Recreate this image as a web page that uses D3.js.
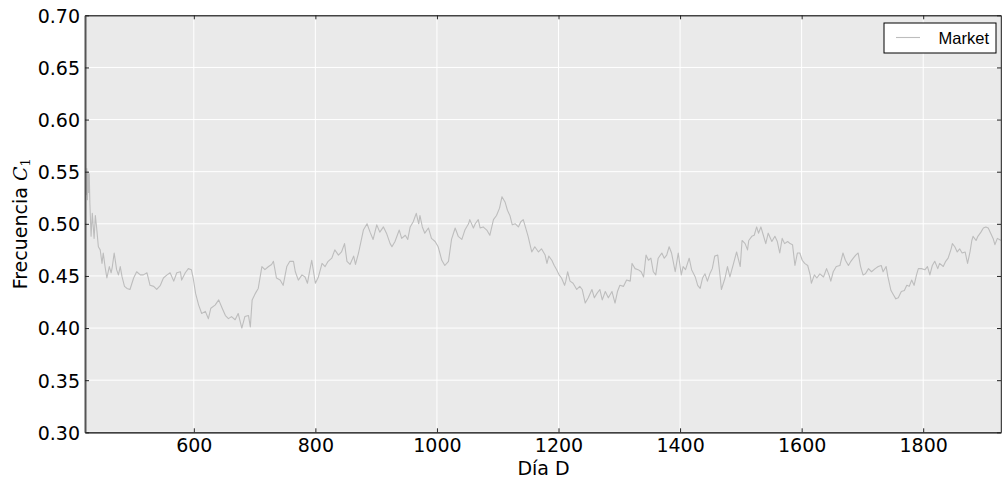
<!DOCTYPE html>
<html><head><meta charset="utf-8">
<script src="https://cdn.jsdelivr.net/npm/d3@7/dist/d3.min.js"></script>
<style>html,body{margin:0;padding:0;background:#fff;}svg{display:block;}</style>
</head><body>
<svg id="chart" width="1002" height="481"></svg>
<script>
const seriesName = "Market";
const xTicks = [600, 800, 1000, 1200, 1400, 1600, 1800];
const yTicks = [0.30, 0.35, 0.40, 0.45, 0.50, 0.55, 0.60, 0.65, 0.70];
const xDomain = [421, 1928];
const yDomain = [0.30, 0.70];
const days = [421,422,423,424,425,426,427,428,429,431,433,436,438,440,443,446,449,451,454,457,461,464,466,469,473,476,479,482,486,490,495,501,506,512,517,523,528,534,539,545,550,556,561,567,572,578,580,586,591,596,599,603,608,613,619,624,628,635,641,646,652,657,662,668,673,679,684,690,693,696,701,706,712,717,723,728,731,736,742,747,753,758,764,767,772,778,783,787,791,794,800,
805,811,816,821,827,832,838,843,848,852,857,863,866,871,875,879,885,890,895,901,906,912,917,923,926,931,938,942,948,952,956,961,966,970,972,976,980,986,991,997,1002,1008,1013,1019,1024,1030,1035,1041,1046,1052,1054,1060,1063,1068,1071,1076,1082,1087,1093,1098,1103,1107,1112,1116,1120,1124,1129,1134,1138,1142,1146,1150,1156,1161,1167,1172,1178,
1181,1184,1189,1193,1197,1201,1205,1210,1212,1215,1219,1224,1230,1235,1239,1244,1249,1255,1259,1263,1268,1272,1277,1282,1288,1293,1297,1301,1307,1312,1318,1321,1326,1331,1336,1340,1344,1348,1352,1356,1360,1364,1370,1374,1378,1382,1386,1392,1397,1402,1405,1409,1415,1419,1425,1429,1433,1437,1441,1445,1449,1453,1457,1462,1466,1468,1474,1478,1482,1488,1493,1499,1502,1507,1511,1513,1518,1522,1526,1529,1533,1537,1541,1545,1551,1556,
1560,1564,1568,1572,1577,1581,1585,1589,1593,1597,1601,1605,1610,1614,1616,1621,1625,1630,1636,1641,1645,1648,1652,1657,1663,1668,1672,1677,1681,1685,1689,1693,1697,1701,1705,1710,1715,1721,1726,1731,1734,1739,1742,1747,1751,1755,1759,1764,1769,1773,1777,1781,1785,1789,1792,1797,1803,1807,1811,1815,1819,1824,1827,1833,1837,1841,1846,1848,1852,1856,1860,1864,1869,1873,1877,1880,1882,1887,1890,1895,1899,1903,1907,1911,1915,1918,1922,1928];
const values = [0.620,0.545,0.528,0.553,0.523,0.550,0.530,0.548,0.520,0.488,0.510,0.486,0.508,0.497,0.478,0.475,0.462,0.472,0.459,0.448,0.459,0.453,0.459,0.472,0.456,0.451,0.459,0.449,0.440,0.438,0.437,0.448,0.454,0.451,0.451,0.453,0.441,0.440,0.437,0.441,0.448,0.451,0.453,0.445,0.453,0.454,0.446,0.453,0.457,0.456,0.448,0.433,0.422,0.414,0.416,0.409,0.419,0.422,0.427,0.420,0.412,0.409,0.411,0.408,0.414,0.400,0.411,0.412,0.401,0.427,0.433,0.438,0.459,0.456,0.459,0.461,0.464,0.448,0.446,0.441,0.459,0.464,0.464,0.454,0.446,0.451,0.449,0.443,0.456,0.465,0.443,
0.449,0.462,0.459,0.464,0.467,0.475,0.470,0.473,0.481,0.464,0.461,0.469,0.461,0.472,0.483,0.494,0.500,0.492,0.485,0.499,0.492,0.497,0.491,0.481,0.478,0.483,0.494,0.486,0.489,0.485,0.497,0.502,0.510,0.500,0.508,0.497,0.491,0.496,0.486,0.483,0.478,0.465,0.460,0.464,0.485,0.496,0.488,0.485,0.494,0.500,0.504,0.496,0.500,0.504,0.496,0.497,0.494,0.489,0.504,0.508,0.515,0.526,0.521,0.513,0.508,0.499,0.500,0.497,0.502,0.504,0.496,0.488,0.473,0.478,0.473,0.476,0.470,
0.462,0.469,0.465,0.460,0.456,0.451,0.448,0.441,0.445,0.454,0.445,0.443,0.437,0.440,0.437,0.424,0.429,0.437,0.429,0.433,0.437,0.427,0.435,0.429,0.435,0.424,0.435,0.441,0.440,0.446,0.445,0.462,0.457,0.456,0.454,0.449,0.470,0.465,0.467,0.454,0.451,0.467,0.472,0.467,0.470,0.478,0.472,0.454,0.472,0.451,0.459,0.456,0.467,0.456,0.449,0.441,0.438,0.448,0.452,0.445,0.452,0.457,0.469,0.470,0.449,0.437,0.448,0.459,0.449,0.462,0.473,0.459,0.484,0.481,0.475,0.484,0.488,0.489,0.497,0.491,0.497,0.489,0.481,0.491,0.483,0.488,
0.483,0.472,0.486,0.481,0.483,0.481,0.480,0.460,0.472,0.472,0.465,0.462,0.460,0.451,0.443,0.451,0.448,0.452,0.449,0.457,0.451,0.445,0.454,0.459,0.460,0.472,0.465,0.460,0.464,0.467,0.470,0.472,0.459,0.451,0.452,0.457,0.454,0.457,0.459,0.460,0.454,0.459,0.449,0.436,0.432,0.428,0.429,0.435,0.436,0.441,0.440,0.446,0.441,0.451,0.457,0.457,0.456,0.459,0.451,0.460,0.464,0.457,0.462,0.459,0.464,0.467,0.476,0.481,0.478,0.473,0.476,0.472,0.473,0.462,0.473,0.484,0.488,0.484,0.488,0.492,0.496,0.497,0.496,0.491,0.486,0.480,0.486,0.484];

const svg = d3.select("#chart");
const L = 85, R = 1001, T = 15.3, B = 432.3;
const x = d3.scaleLinear().domain(xDomain).range([L, R]);
const y = d3.scaleLinear().domain(yDomain).range([B, T]);

svg.append("defs").append("clipPath").attr("id","clip")
  .append("rect").attr("x",L).attr("y",T).attr("width",R-L).attr("height",B-T);

svg.append("rect").attr("x",L).attr("y",T).attr("width",R-L).attr("height",B-T).attr("fill","#eaeaea");

// grid
const grid = svg.append("g");
grid.selectAll("line.gx").data(xTicks).enter().append("line")
  .attr("x1",d=>x(d)).attr("x2",d=>x(d)).attr("y1",T).attr("y2",B)
  .attr("stroke","#fff").attr("stroke-width",1);
grid.selectAll("line.gy").data(yTicks).enter().append("line")
  .attr("x1",L).attr("x2",R).attr("y1",d=>y(d)).attr("y2",d=>y(d))
  .attr("stroke","#fff").attr("stroke-width",1);

// line
const data = days.map((d,i)=>({d, v: values[i]}));
svg.append("path").datum(data).attr("clip-path","url(#clip)")
  .attr("fill","none").attr("stroke","#bdbdbd").attr("stroke-width",1.1)
  .attr("stroke-linejoin","round")
  .attr("d", d3.line().x(p=>x(p.d)).y(p=>y(p.v)));

// axes (ticks inward)
const fmtY = d3.format(".2f");
const tickFont = "'DejaVu Sans', sans-serif";
const axBottom = svg.append("g").attr("transform",`translate(0,${B})`)
  .call(d3.axisBottom(x).tickValues(xTicks).tickSizeInner(-4).tickSizeOuter(0).tickPadding(6).tickFormat(d3.format("d")));
const axTop = svg.append("g").attr("transform",`translate(0,${T})`)
  .call(d3.axisTop(x).tickValues(xTicks).tickSizeInner(-4).tickSizeOuter(0).tickFormat(""));
const axLeft = svg.append("g").attr("transform",`translate(${L},0)`)
  .call(d3.axisLeft(y).tickValues(yTicks).tickSizeInner(-4).tickSizeOuter(0).tickPadding(5).tickFormat(fmtY));
const axRight = svg.append("g").attr("transform",`translate(${R},0)`)
  .call(d3.axisRight(y).tickValues(yTicks).tickSizeInner(-4).tickSizeOuter(0).tickFormat(""));

[axBottom, axTop, axLeft, axRight].forEach(g=>{
  g.selectAll("text").attr("font-family",tickFont).attr("font-size","19px").attr("fill","#000");
  g.selectAll(".tick line").attr("stroke","#222");
});
axBottom.select(".domain").attr("stroke","#000").attr("stroke-width",1.3);
axTop.select(".domain").attr("stroke","#444").attr("stroke-width",1.5);
axLeft.select(".domain").attr("stroke","#555").attr("stroke-width",2);
axRight.select(".domain").attr("stroke","#444").attr("stroke-width",1.5);
axLeft.selectAll("text").attr("dy","0.36em");

// axis labels
svg.append("text").attr("x",(L+R)/2 + 0.5).attr("y",475)
  .attr("text-anchor","middle").attr("font-family",tickFont).attr("font-size","19px")
  .text("Día D");
const yl = svg.append("text").attr("transform",`translate(27,${(T+B)/2}) rotate(-90)`)
  .attr("text-anchor","middle").attr("font-family",tickFont).attr("font-size","19px");
yl.append("tspan").text("Frecuencia ");
yl.append("tspan").attr("font-family","'DejaVu Serif', serif").attr("font-style","italic").text("C");
yl.append("tspan").attr("font-family","'DejaVu Serif', serif").attr("font-size","13px").attr("dy","3").text("1");

// legend
const lg = svg.append("g");
lg.append("rect").attr("x",884).attr("y",23).attr("width",112).attr("height",30)
  .attr("fill","#fff").attr("stroke","#000").attr("stroke-width",1);
lg.append("line").attr("x1",896).attr("x2",920).attr("y1",37.5).attr("y2",37.5)
  .attr("stroke","#bdbdbd").attr("stroke-width",1.1);
lg.append("text").attr("x",989).attr("y",43.5).attr("text-anchor","end")
  .attr("font-family","'Liberation Sans', Arial, sans-serif").attr("font-size","16.5px")
  .text(seriesName);
</script>
</body></html>
